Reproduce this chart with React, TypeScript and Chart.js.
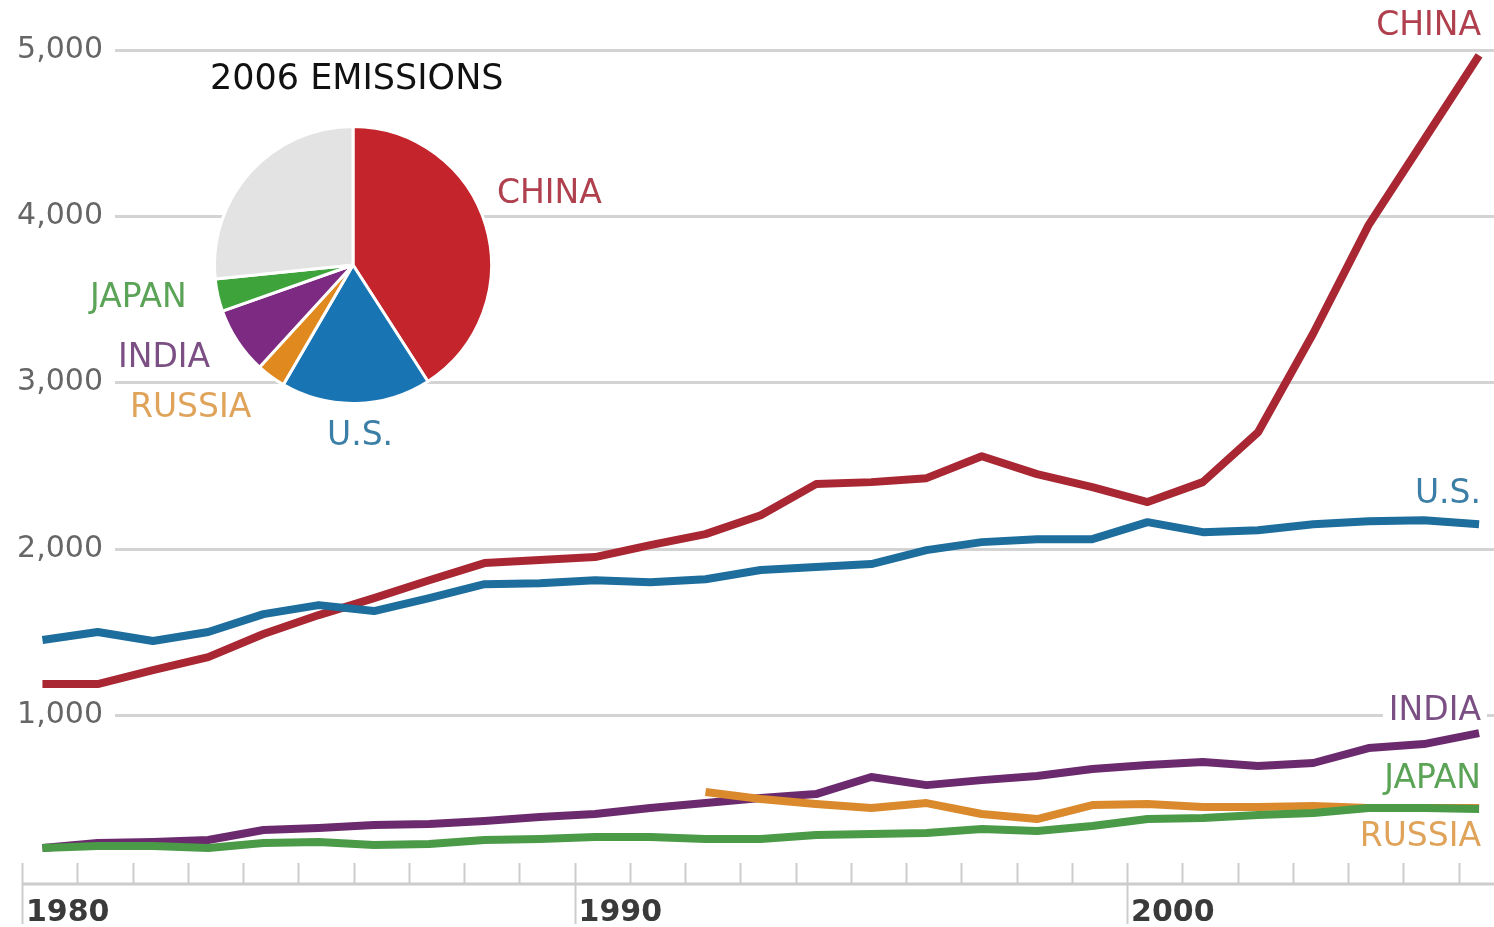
import React, { useEffect, useRef } from "react";
import { Chart, registerables } from "chart.js";

Chart.register(...registerables);

// ---------- data ----------
const YEARS = [
  1980, 1981, 1982, 1983, 1984, 1985, 1986, 1987, 1988, 1989,
  1990, 1991, 1992, 1993, 1994, 1995, 1996, 1997, 1998, 1999,
  2000, 2001, 2002, 2003, 2004, 2005, 2006,
];
const CHINA = [
  1185, 1185, 1269, 1347, 1486, 1600, 1702, 1810, 1913, 1931,
  1949, 2021, 2087, 2201, 2388, 2400, 2424, 2556, 2448, 2370,
  2280, 2400, 2700, 3296, 3946, 4457, 4968,
];
const US = [
  1450, 1498, 1444, 1498, 1606, 1660, 1624, 1702, 1786, 1792,
  1810, 1798, 1816, 1871, 1889, 1907, 1991, 2039, 2057, 2057,
  2159, 2099, 2111, 2147, 2165, 2171, 2147,
];
const INDIA = [
  198, 229, 235, 247, 307, 319, 337, 343, 361, 385,
  403, 439, 469, 499, 523, 626, 577, 607, 632, 674,
  698, 716, 692, 710, 800, 824, 890,
];
const JAPAN = [
  198, 211, 211, 198, 229, 235, 217, 223, 247, 253,
  265, 265, 253, 253, 277, 283, 289, 313, 301, 331,
  373, 379, 397, 409, 439, 439, 433,
];
const RUSSIA: (number | null)[] = [
  null, null, null, null, null, null, null, null, null, null,
  null, null, 535, 493, 463, 439, 469, 403, 373, 457,
  463, 445, 445, 451, 439, 439, 439,
];

const Y_TICKS = [1000, 2000, 3000, 4000, 5000];
const X_LABEL_YEARS = [1980, 1990, 2000];

const PIE_LABELS = ["CHINA", "U.S.", "RUSSIA", "INDIA", "JAPAN", "OTHER"];
const PIE_VALUES = [40.9, 17.5, 3.4, 7.8, 3.8, 26.6];
const PIE_TITLE = "2006 EMISSIONS";

// ---------- styles ----------
const LINE_COLORS = {
  CHINA: "#a82733",
  US: "#1d6d9d",
  INDIA: "#6b2a6d",
  JAPAN: "#4a9a48",
  RUSSIA: "#da8a2c",
};
const PIE_COLORS = ["#c4242b", "#1874b2", "#e0891f", "#7c2a82", "#3fa33c", "#e3e3e3"];
const LABEL_COLORS = {
  CHINA: "#b0404e",
  US: "#3b7ea6",
  INDIA: "#7b4f84",
  JAPAN: "#5ba356",
  RUSSIA: "#dfa35a",
};
const FONT = '"DejaVu Sans", Verdana, sans-serif';
const X_OFFSET = 0.37; // data points sit a little after the year tick

// end-of-line labels: [text, color, y value of label centre]
const END_LABELS: [string, string, number][] = [
  ["CHINA", LABEL_COLORS.CHINA, 5143],
  ["U.S.", LABEL_COLORS.US, 2328],
  ["INDIA", LABEL_COLORS.INDIA, 1023],
  ["JAPAN", LABEL_COLORS.JAPAN, 614],
  ["RUSSIA", LABEL_COLORS.RUSSIA, 265],
];

// pie annotation labels: [text, color, left x, centre y]
const PIE_TEXT: [string, string, number, number][] = [
  ["CHINA", LABEL_COLORS.CHINA, 497, 194],
  ["JAPAN", LABEL_COLORS.JAPAN, 90, 298],
  ["INDIA", LABEL_COLORS.INDIA, 118, 358],
  ["RUSSIA", LABEL_COLORS.RUSSIA, 130, 408],
  ["U.S.", LABEL_COLORS.US, 327, 436],
];

const series = (vals: (number | null)[]) =>
  YEARS.map((yr, i) => ({ x: yr + X_OFFSET, y: vals[i] }));

const decorPlugin = {
  id: "decor",
  beforeDatasetsDraw(chart: any) {
    const { ctx, chartArea, scales } = chart;
    const x = scales.x;
    const y = scales.y;
    ctx.save();
    // horizontal gridlines + y labels
    ctx.strokeStyle = "#d3d3d3";
    ctx.lineWidth = 3;
    ctx.font = `30px ${FONT}`;
    ctx.fillStyle = "#666666";
    ctx.textAlign = "right";
    ctx.textBaseline = "middle";
    Y_TICKS.forEach((v) => {
      const py = Math.round(y.getPixelForValue(v)) + 0.5;
      ctx.beginPath();
      ctx.moveTo(115, py);
      ctx.lineTo(chartArea.right, py);
      ctx.stroke();
      ctx.fillText(v.toLocaleString("en-US"), 103, py);
    });
    // x axis line
    const axisY = chartArea.bottom;
    ctx.strokeStyle = "#cccccc";
    ctx.lineWidth = 3;
    ctx.beginPath();
    ctx.moveTo(chartArea.left, axisY);
    ctx.lineTo(chartArea.right, axisY);
    ctx.stroke();
    // year ticks
    ctx.lineWidth = 2;
    for (let yr = 1980; yr <= 2006; yr++) {
      const px = Math.round(x.getPixelForValue(yr)) + 0.5;
      const decade = X_LABEL_YEARS.includes(yr);
      ctx.beginPath();
      ctx.moveTo(px, axisY - 21);
      ctx.lineTo(px, decade ? axisY + 40 : axisY);
      ctx.stroke();
    }
    // year labels
    ctx.font = `bold 30px ${FONT}`;
    ctx.fillStyle = "#3a3a3a";
    ctx.textAlign = "left";
    ctx.textBaseline = "middle";
    X_LABEL_YEARS.forEach((yr) => {
      const px = x.getPixelForValue(yr);
      ctx.fillText(String(yr), px + 4, axisY + 29);
    });
    ctx.restore();
  },
  afterDatasetsDraw(chart: any) {
    const { ctx, scales } = chart;
    const y = scales.y;
    ctx.save();
    ctx.font = `33px ${FONT}`;
    ctx.textBaseline = "middle";
    ctx.textAlign = "right";
    END_LABELS.forEach(([t, c, v]) => {
      const py = y.getPixelForValue(v);
      const w = ctx.measureText(t).width;
      ctx.fillStyle = "#ffffff";
      ctx.fillRect(1481 - w - 6, py - 14, w + 12, 28);
      ctx.fillStyle = c;
      ctx.fillText(t, 1481, py);
    });
    ctx.textAlign = "left";
    PIE_TEXT.forEach(([t, c, lx, cy]) => {
      ctx.fillStyle = c;
      ctx.fillText(t, lx, cy);
    });
    ctx.font = `35px ${FONT}`;
    ctx.fillStyle = "#111111";
    ctx.fillText(PIE_TITLE, 210, 80);
    ctx.restore();
  },
};

export default function App() {
  const lineRef = useRef<HTMLCanvasElement | null>(null);
  const pieRef = useRef<HTMLCanvasElement | null>(null);

  useEffect(() => {
    document.body.style.margin = "0";
    const mk = (label: string, vals: (number | null)[], color: string) => ({
      label,
      data: series(vals),
      borderColor: color,
      backgroundColor: color,
      borderWidth: 8,
      pointRadius: 0,
      tension: 0,
      borderCapStyle: "butt" as const,
      borderJoinStyle: "round" as const,
      spanGaps: false,
    });
    const line = new Chart(lineRef.current!, {
      type: "line",
      data: {
        datasets: [
          mk("Japan", JAPAN, LINE_COLORS.JAPAN),
          mk("Russia", RUSSIA, LINE_COLORS.RUSSIA),
          mk("India", INDIA, LINE_COLORS.INDIA),
          mk("U.S.", US, LINE_COLORS.US),
          mk("China", CHINA, LINE_COLORS.CHINA),
        ],
      },
      options: {
        responsive: false,
        animation: false,
        layout: { padding: { left: 22, right: 0, top: 50, bottom: 43 } },
        plugins: { legend: { display: false }, tooltip: { enabled: false } },
        scales: {
          x: { type: "linear", min: 1980, max: 2006.64, display: false },
          y: { type: "linear", min: -18, max: 5000, display: false },
        },
      },
      plugins: [decorPlugin],
    });
    const pie = new Chart(pieRef.current!, {
      type: "pie",
      data: {
        labels: PIE_LABELS,
        datasets: [
          {
            data: PIE_VALUES,
            backgroundColor: PIE_COLORS,
            borderColor: "#ffffff",
            borderWidth: 3,
          },
        ],
      },
      options: {
        responsive: false,
        animation: false,
        layout: { padding: 0 },
        plugins: { legend: { display: false }, tooltip: { enabled: false } },
      },
    });
    return () => {
      line.destroy();
      pie.destroy();
    };
  }, []);

  return (
    <div style={{ position: "relative", width: 1494, height: 927, background: "#ffffff" }}>
      <canvas ref={lineRef} width={1494} height={927} style={{ position: "absolute", left: 0, top: 0 }} />
      <canvas ref={pieRef} width={280} height={280} style={{ position: "absolute", left: 213, top: 125 }} />
    </div>
  );
}
